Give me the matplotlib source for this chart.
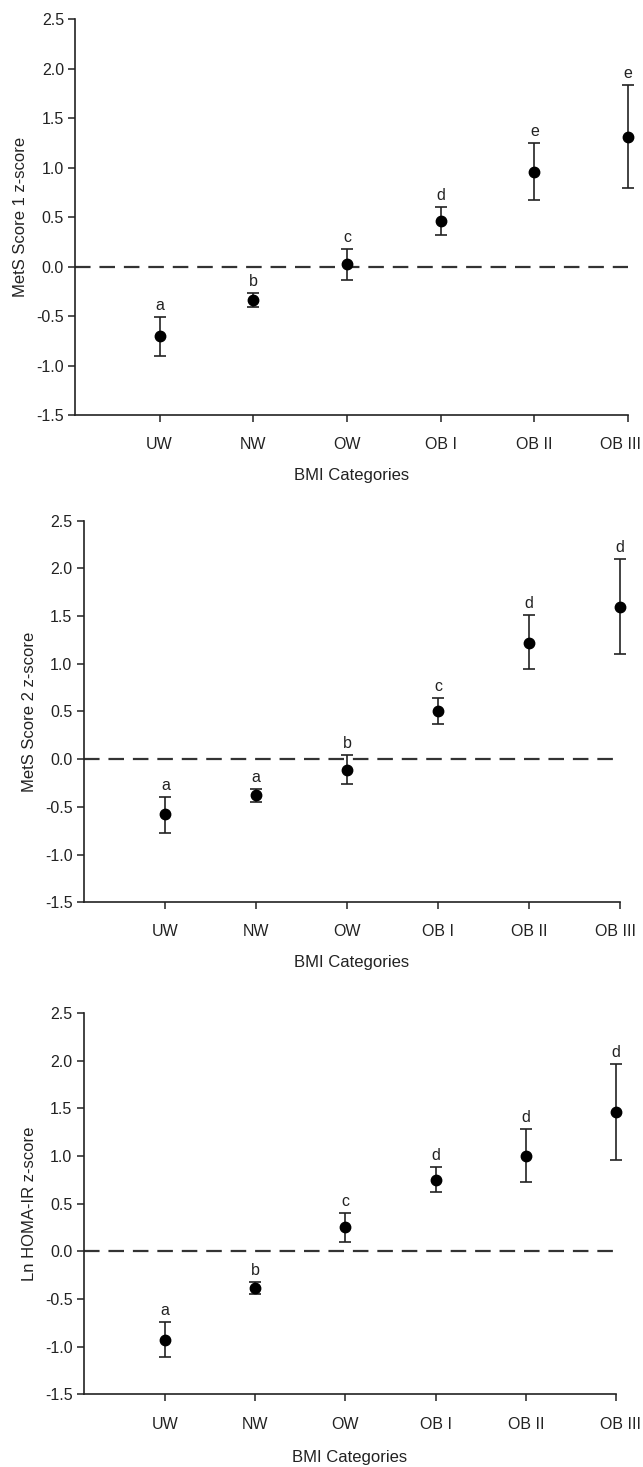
import matplotlib
matplotlib.use("Agg")
import matplotlib.pyplot as plt
import matplotlib.transforms as mtransforms

plt.rcParams['font.family'] = ['Liberation Sans', 'DejaVu Sans']

categories = ['UW', 'NW', 'OW', 'OB I', 'OB II', 'OB III']

# MetS Score 1
mets1_mean = [-0.70, -0.34, 0.03, 0.46, 0.96, 1.31]
mets1_upper = [-0.51, -0.27, 0.18, 0.60, 1.25, 1.83]
mets1_lower = [-0.90, -0.41, -0.13, 0.32, 0.67, 0.79]
mets1_letters = ['a', 'b', 'c', 'd', 'e', 'e']

# MetS Score 2
mets2_mean = [-0.58, -0.38, -0.11, 0.51, 1.22, 1.60]
mets2_upper = [-0.40, -0.31, 0.04, 0.64, 1.51, 2.10]
mets2_lower = [-0.77, -0.45, -0.26, 0.37, 0.95, 1.10]
mets2_letters = ['a', 'a', 'b', 'c', 'd', 'd']

# Ln HOMA-IR
homa_mean = [-0.93, -0.38, 0.255, 0.75, 1.00, 1.46]
homa_upper = [-0.74, -0.32, 0.40, 0.88, 1.28, 1.96]
homa_lower = [-1.11, -0.45, 0.10, 0.62, 0.73, 0.96]
homa_letters = ['a', 'b', 'c', 'd', 'd', 'd']

# (mean, upper, lower, letters, ylabel, axes rect, last label shift px, xlabel pad)
panels = [
    (mets1_mean, mets1_upper, mets1_lower, mets1_letters, 'MetS Score 1 z-score',
     [0.117, 0.717, 0.860, 0.270], -8, 11),
    (mets2_mean, mets2_upper, mets2_lower, mets2_letters, 'MetS Score 2 z-score',
     [0.130, 0.385, 0.834, 0.260], -4, 11),
    (homa_mean, homa_upper, homa_lower, homa_letters, 'Ln HOMA-IR z-score',
     [0.130, 0.0495, 0.828, 0.260], 5, 13),
]

fig = plt.figure(figsize=(6.43, 14.67), dpi=100)
txt = '#222222'

for mean, upper, lower, letters, ylabel, pos, shift, xpad in panels:
    ax = fig.add_axes(pos)
    x = list(range(1, len(categories) + 1))
    yerr = [[m - l for m, l in zip(mean, lower)], [u - m for m, u in zip(mean, upper)]]
    ax.axhline(0, color='#333333', lw=1.6, dashes=(7, 4), zorder=1)
    eb = ax.errorbar(x, mean, yerr=yerr, fmt='o', color='black', ecolor='#222222',
                     markersize=7.5, capsize=4.5, elinewidth=1.2, capthick=1.2, zorder=3)
    for child in eb.get_children():
        child.set_clip_on(False)
    for xi, u, lt in zip(x, upper, letters):
        ax.annotate(lt, (xi, u), xytext=(0, 3), textcoords='offset points',
                    ha='center', va='bottom', fontsize=11.5, color=txt)
    ax.set_xlim(0.1, 6.0)
    ax.set_ylim(-1.5, 2.5)
    ax.set_yticks([-1.5, -1.0, -0.5, 0.0, 0.5, 1.0, 1.5, 2.0, 2.5])
    ax.set_yticklabels(['-1.5', '-1.0', '-0.5', '0.0', '0.5', '1.0', '1.5', '2.0', '2.5'])
    ax.set_xticks(x)
    ax.set_xticklabels(categories)
    ax.spines['top'].set_visible(False)
    ax.spines['right'].set_visible(False)
    ax.spines['left'].set_color('#222222')
    ax.spines['bottom'].set_color('#222222')
    ax.spines['left'].set_linewidth(1.2)
    ax.spines['bottom'].set_linewidth(1.2)
    ax.tick_params(axis='y', direction='out', length=5, width=1.1, labelsize=11.5,
                   colors='#222222', labelcolor=txt, pad=3)
    ax.tick_params(axis='x', direction='out', length=5, width=1.1, labelsize=11.5,
                   colors='#222222', labelcolor=txt, pad=11)
    last = ax.get_xticklabels()[-1]
    last.set_transform(last.get_transform() +
                       mtransforms.ScaledTranslation(shift / 100, 0, fig.dpi_scale_trans))
    ax.set_ylabel(ylabel, fontsize=12, color=txt, labelpad=6)
    ax.set_xlabel('BMI Categories', fontsize=12, color=txt, labelpad=xpad)

fig.savefig('out.png', dpi=100)
